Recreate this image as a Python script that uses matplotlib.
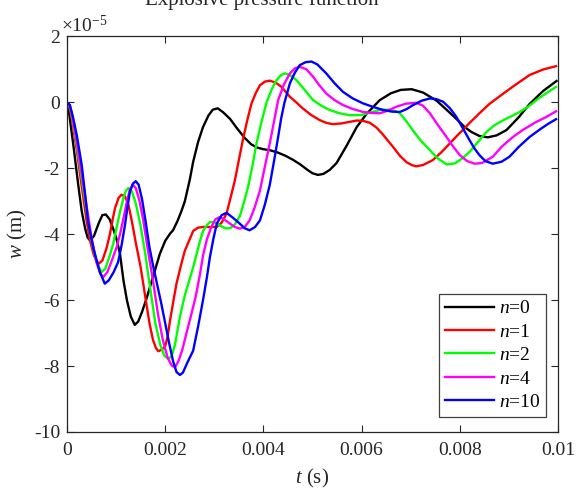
import matplotlib

matplotlib.use("Agg")
import matplotlib.pyplot as plt
from matplotlib.ticker import FuncFormatter, ScalarFormatter, MultipleLocator

# values: (t in ms, w in units of 1e-5 m)
black_pts = [
    (0, 0), (0.03, -0.18), (0.13, -1.3), (0.23, -2.51), (0.30, -3.3), (0.37, -3.83),
    (0.42, -4.1), (0.47, -4.19), (0.55, -4.05), (0.65, -3.65), (0.72, -3.42), (0.79, -3.4),
    (0.87, -3.55), (0.94, -3.83), (1.01, -4.15), (1.08, -4.6), (1.15, -5.4), (1.22, -6.0),
    (1.30, -6.5), (1.38, -6.75), (1.45, -6.65), (1.53, -6.35), (1.62, -5.95), (1.72, -5.45),
    (1.82, -4.95), (1.89, -4.6), (2.0, -4.2), (2.1, -3.98), (2.16, -3.88), (2.25, -3.6),
    (2.33, -3.3), (2.4, -3.0), (2.5, -2.35), (2.57, -1.8), (2.67, -1.2), (2.77, -0.75),
    (2.88, -0.4), (2.97, -0.22), (3.07, -0.18), (3.18, -0.3), (3.32, -0.5), (3.47, -0.8),
    (3.62, -1.08), (3.75, -1.27), (3.87, -1.37), (4.0, -1.42), (4.13, -1.45), (4.29, -1.52),
    (4.45, -1.62), (4.6, -1.74), (4.74, -1.87), (4.9, -2.05), (5.0, -2.15), (5.11, -2.2),
    (5.22, -2.17), (5.35, -2.05), (5.49, -1.84), (5.7, -1.3), (5.9, -0.75), (6.1, -0.35),
    (6.37, 0.07), (6.6, 0.28), (6.8, 0.38), (7.02, 0.4), (7.25, 0.3), (7.53, 0.05),
    (7.75, -0.25), (7.93, -0.5), (8.1, -0.75), (8.24, -0.9), (8.4, -1.02), (8.57, -1.06),
    (8.75, -1.0), (8.95, -0.84), (9.2, -0.45), (9.42, -0.05), (9.7, 0.35), (9.97, 0.65),
]
red_pts = [
    (0, 0), (0.05, -0.15), (0.1, -0.5), (0.2, -1.45), (0.3, -2.55), (0.4, -3.6), (0.47, -4.2),
    (0.55, -4.65), (0.64, -4.9), (0.72, -4.8), (0.8, -4.45), (0.87, -4.03), (0.93, -3.55),
    (0.98, -3.2), (1.05, -2.9), (1.11, -2.8), (1.18, -2.85), (1.25, -3.1), (1.32, -3.6),
    (1.4, -4.25), (1.5, -5.0), (1.6, -5.95), (1.68, -6.7), (1.75, -7.2), (1.81, -7.45),
    (1.86, -7.55), (1.93, -7.5), (2.0, -7.4), (2.05, -7.1), (2.1, -6.6), (2.17, -6.0),
    (2.23, -5.5), (2.32, -4.95), (2.4, -4.5), (2.5, -4.15), (2.57, -3.9), (2.67, -3.8),
    (2.77, -3.78), (2.9, -3.78), (3.05, -3.78), (3.15, -3.65), (3.25, -3.37), (3.33, -2.9),
    (3.42, -2.36), (3.5, -1.75), (3.58, -1.15), (3.67, -0.55), (3.76, -0.02), (3.85, 0.3),
    (3.93, 0.52), (4.03, 0.63), (4.13, 0.66), (4.25, 0.6), (4.37, 0.47), (4.45, 0.33),
    (4.54, 0.17), (4.67, 0.0), (4.8, -0.18), (4.97, -0.38), (5.15, -0.54), (5.28, -0.62),
    (5.41, -0.66), (5.58, -0.64), (5.76, -0.59), (5.9, -0.55), (6.03, -0.56), (6.17, -0.62),
    (6.3, -0.76), (6.42, -0.95), (6.53, -1.15), (6.64, -1.35), (6.78, -1.62), (6.92, -1.82),
    (7.02, -1.9), (7.11, -1.94), (7.25, -1.9), (7.45, -1.75), (7.62, -1.52), (7.8, -1.24),
    (7.95, -1.0), (8.06, -0.84), (8.2, -0.62), (8.4, -0.33), (8.6, -0.05), (8.87, 0.25),
    (9.1, 0.5), (9.42, 0.83), (9.7, 1.0), (9.96, 1.1),
]
green_pts = [
    (0, 0), (0.05, -0.1), (0.1, -0.4), (0.2, -1.3), (0.3, -2.3), (0.4, -3.3), (0.5, -4.2),
    (0.6, -4.85), (0.7, -5.15), (0.78, -5.05), (0.86, -4.7), (0.94, -4.3), (1.01, -3.8),
    (1.08, -3.32), (1.15, -2.9), (1.2, -2.68), (1.25, -2.6), (1.32, -2.7), (1.4, -3.05),
    (1.5, -3.75), (1.6, -4.65), (1.7, -5.7), (1.8, -6.7), (1.9, -7.35), (1.98, -7.68),
    (2.06, -7.78), (2.13, -7.7), (2.2, -7.35), (2.3, -6.5), (2.4, -5.85), (2.5, -5.35),
    (2.57, -5.0), (2.64, -4.6), (2.7, -4.25), (2.77, -3.9), (2.85, -3.72), (2.91, -3.63),
    (3.0, -3.63), (3.11, -3.73), (3.22, -3.82), (3.32, -3.82), (3.42, -3.7), (3.52, -3.45),
    (3.6, -3.05), (3.69, -2.55), (3.78, -1.9), (3.86, -1.24), (3.96, -0.6), (4.06, -0.02),
    (4.17, 0.4), (4.27, 0.68), (4.36, 0.83), (4.44, 0.88), (4.55, 0.82), (4.67, 0.68),
    (4.84, 0.38), (5.01, 0.07), (5.18, -0.1), (5.35, -0.23), (5.55, -0.33), (5.76, -0.39),
    (6.0, -0.38), (6.2, -0.3), (6.37, -0.23), (6.55, -0.22), (6.7, -0.27), (6.78, -0.33),
    (6.9, -0.55), (7.04, -0.84), (7.2, -1.15), (7.39, -1.45), (7.55, -1.7), (7.73, -1.88),
    (7.9, -1.85), (8.06, -1.69), (8.2, -1.5), (8.4, -1.15), (8.54, -0.9), (8.7, -0.7),
    (8.87, -0.55), (9.05, -0.42), (9.22, -0.29), (9.4, -0.12), (9.56, 0.07), (9.75, 0.27),
    (9.96, 0.47),
]
magenta_pts = [
    (0, 0), (0.05, -0.08), (0.1, -0.35), (0.2, -1.2), (0.3, -2.15), (0.4, -3.15), (0.5, -4.1),
    (0.6, -4.85), (0.68, -5.2), (0.74, -5.3), (0.82, -5.15), (0.9, -4.85), (0.96, -4.6),
    (1.01, -4.4), (1.08, -4.0), (1.15, -3.52), (1.22, -3.0), (1.28, -2.65), (1.34, -2.5),
    (1.4, -2.6), (1.47, -2.95), (1.55, -3.55), (1.65, -4.5), (1.75, -5.4), (1.85, -6.4),
    (1.95, -7.2), (2.05, -7.75), (2.13, -7.98), (2.2, -8.04), (2.27, -7.85), (2.35, -7.5),
    (2.43, -7.02), (2.52, -6.5), (2.62, -5.9), (2.71, -5.2), (2.77, -4.65), (2.85, -4.15),
    (2.94, -3.78), (3.02, -3.55), (3.11, -3.48), (3.2, -3.55), (3.32, -3.68), (3.42, -3.78),
    (3.52, -3.83), (3.62, -3.78), (3.72, -3.58), (3.82, -3.2), (3.93, -2.67), (4.03, -1.95),
    (4.13, -1.24), (4.22, -0.55), (4.3, 0.07), (4.42, 0.55), (4.54, 0.88), (4.64, 1.03),
    (4.74, 1.08), (4.88, 1.0), (5.01, 0.78), (5.15, 0.5), (5.28, 0.27), (5.45, 0.07),
    (5.62, -0.08), (5.82, -0.2), (6.03, -0.29), (6.2, -0.32), (6.37, -0.33), (6.55, -0.24),
    (6.71, -0.13), (6.9, -0.04), (7.11, -0.01), (7.25, -0.1), (7.39, -0.33), (7.55, -0.68),
    (7.73, -1.05), (7.87, -1.35), (8.0, -1.6), (8.15, -1.78), (8.3, -1.86), (8.45, -1.84),
    (8.67, -1.65), (8.85, -1.35), (9.08, -1.05), (9.3, -0.82), (9.56, -0.59), (9.75, -0.45),
    (9.96, -0.27),
]
blue_pts = [
    (0, 0), (0.06, -0.08), (0.13, -0.5), (0.2, -1.0), (0.3, -1.9), (0.37, -2.8), (0.43, -3.63),
    (0.54, -4.44), (0.67, -5.15), (0.77, -5.5), (0.85, -5.4), (0.95, -5.15), (1.04, -4.85),
    (1.11, -4.35), (1.18, -3.73), (1.23, -3.2), (1.28, -2.72), (1.34, -2.47), (1.4, -2.39),
    (1.46, -2.5), (1.53, -2.95), (1.6, -3.6), (1.68, -4.4), (1.76, -5.0), (1.84, -5.55),
    (1.92, -6.1), (2.0, -6.7), (2.08, -7.3), (2.16, -7.85), (2.23, -8.18), (2.3, -8.27),
    (2.36, -8.2), (2.45, -7.9), (2.57, -7.53), (2.67, -6.8), (2.77, -6.0), (2.85, -5.3),
    (2.91, -4.7), (2.98, -4.15), (3.05, -3.68), (3.15, -3.42), (3.25, -3.35), (3.38, -3.5),
    (3.52, -3.68), (3.62, -3.82), (3.72, -3.88), (3.83, -3.78), (3.93, -3.58), (4.03, -3.1),
    (4.13, -2.5), (4.22, -1.75), (4.3, -1.05), (4.36, -0.5), (4.43, 0.0), (4.54, 0.58),
    (4.64, 0.9), (4.74, 1.13), (4.86, 1.22), (4.98, 1.24), (5.1, 1.15), (5.28, 0.88),
    (5.45, 0.58), (5.62, 0.32), (5.82, 0.12), (6.03, -0.03), (6.24, -0.14), (6.44, -0.23),
    (6.62, -0.28), (6.78, -0.29), (6.92, -0.2), (7.05, -0.08), (7.22, 0.05), (7.39, 0.12),
    (7.52, 0.1), (7.66, 0.02), (7.8, -0.18), (7.93, -0.44), (8.06, -0.78), (8.2, -1.15),
    (8.3, -1.4), (8.4, -1.6), (8.52, -1.78), (8.67, -1.86), (8.85, -1.8), (9.01, -1.65),
    (9.2, -1.35), (9.42, -1.05), (9.65, -0.8), (9.8, -0.65), (9.96, -0.51),
]

series = [
    ("$n$=0", "#000000", black_pts),
    ("$n$=1", "#ff0000", red_pts),
    ("$n$=2", "#00ff00", green_pts),
    ("$n$=4", "#ff00ff", magenta_pts),
    ("$n$=10", "#0000ff", blue_pts),
]

plt.rcParams.update(
    {
        "font.family": ["Liberation Serif", "DejaVu Serif"],
        "mathtext.fontset": "custom",
        "mathtext.rm": "Liberation Serif",
        "mathtext.it": "Liberation Serif:italic",
        "axes.unicode_minus": False,
        "font.size": 14,
    }
)

fig = plt.figure(figsize=(5.77, 4.95), dpi=100)
ax = fig.add_axes([0.1161, 0.1273, 0.851, 0.799])

for label, color, pts in series:
    t = [p[0] * 1e-3 for p in pts]
    w = [p[1] * 1e-5 for p in pts]
    ax.plot(t, w, color=color, lw=1.7, label=label)

ax.set_xlim(0, 0.01)
ax.set_ylim(-10e-5, 2e-5)
ax.xaxis.set_major_locator(MultipleLocator(0.002))
ax.yaxis.set_major_locator(MultipleLocator(2e-5))
ax.xaxis.set_major_formatter(FuncFormatter(lambda v, _: f"{v:g}"))
fmt = ScalarFormatter()
fmt.set_powerlimits((-5, -5))
ax.yaxis.set_major_formatter(fmt)
ax.yaxis.get_offset_text().set_visible(False)

ax.tick_params(direction="in", length=5, width=0.8, top=True, right=True,
               labelsize=14, color="#262626", labelcolor="#262626")
ax.tick_params(axis="x", pad=7)
ax.tick_params(axis="y", pad=5)
for sp in ax.spines.values():
    sp.set_linewidth(0.9)
    sp.set_color("#262626")

# MATLAB-style exponent label above the y axis
ax.annotate("\u00d710$^{\\mathregular{-5}}$", xy=(0, 1), xycoords="axes fraction",
            xytext=(-4, 3), textcoords="offset points", ha="left", va="baseline",
            fontsize=14, color="#262626")

ax.set_xlabel("$t$ (s)", fontsize=15, labelpad=6, color="#262626")
ax.set_ylabel("$w$ (m)", fontsize=15, color="#262626")
ax.yaxis.label.set_verticalalignment("center")
ax.yaxis.set_label_coords(-0.1, 0.5)

fig.text(262 / 577, 1 - 5 / 495, "Explosive pressure function", ha="center",
         va="baseline", fontsize=15, color="#262626")

leg = ax.legend(loc="lower right", bbox_to_anchor=(0.9756, 0.038), borderaxespad=0,
                fontsize=14, handlelength=2.5, handletextpad=0.25, labelspacing=0.3,
                borderpad=0.3, fancybox=False, framealpha=1, edgecolor="#404040")
leg.get_frame().set_linewidth(0.9)

fig.savefig("out.png", dpi=100)
